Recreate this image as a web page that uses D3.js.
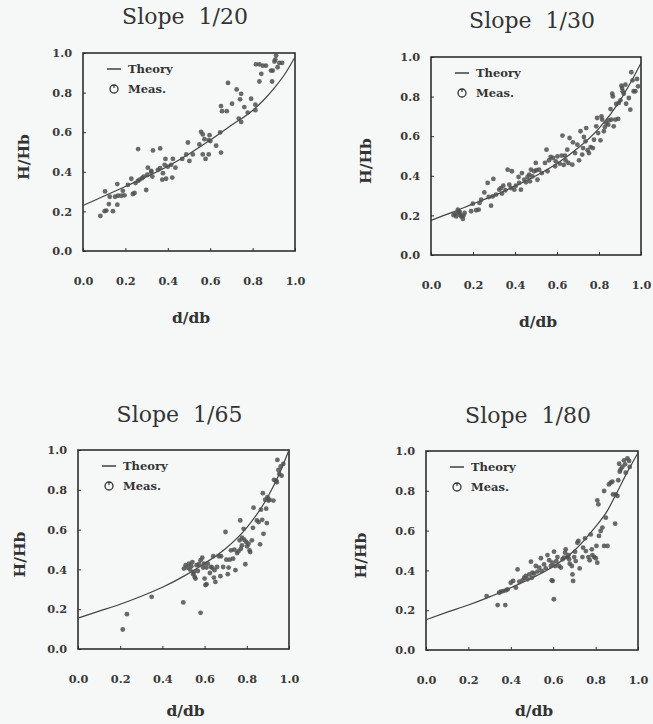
<!DOCTYPE html>
<html>
<head>
<meta charset="utf-8">
<script src="https://cdn.jsdelivr.net/npm/d3@7"></script>
<style>
  body { margin: 0; background: #f5f8f7; }
  svg { display: block; }
  .tick text { font-family: "DejaVu Serif", serif; font-weight: bold; font-size: 11.3px; fill: #3a3a3a; }
  .tick line { stroke: #333; stroke-width: 1; }
</style>
</head>
<body>
<div id="chart"></div>
<script>
// slopes shown in the four panels
const titles = ['Slope  1/20', 'Slope  1/30', 'Slope  1/65', 'Slope  1/80'];
const ticks = [0, 0.2, 0.4, 0.6, 0.8, 1.0];

// theory curves as [d/db, H/Hb]
const theory20 = [[0,0.23],[0.1,0.278],[0.2,0.326],[0.3,0.375],[0.4,0.428],[0.5,0.49],[0.6,0.56],[0.7,0.635],[0.8,0.71],[0.85,0.76],[0.9,0.82],[0.95,0.89],[1,0.98]];
const theory30 = [[0,0.175],[0.1,0.215],[0.2,0.258],[0.3,0.3],[0.4,0.348],[0.5,0.4],[0.6,0.462],[0.7,0.54],[0.8,0.64],[0.9,0.78],[0.95,0.87],[1,0.97]];
const theory65 = [[0,0.155],[0.1,0.19],[0.2,0.225],[0.3,0.265],[0.4,0.31],[0.5,0.365],[0.6,0.43],[0.7,0.505],[0.8,0.61],[0.9,0.765],[0.95,0.87],[1,1.0]];
const theory80 = [[0,0.152],[0.1,0.19],[0.2,0.226],[0.3,0.267],[0.4,0.313],[0.5,0.362],[0.6,0.42],[0.7,0.5],[0.8,0.62],[0.85,0.69],[0.9,0.79],[0.95,0.895],[1,0.99]];

// measurements
const meas20 = [[0.26,0.515],[0.33,0.508],[0.364,0.518],[0.306,0.421],[0.322,0.405],[0.353,0.41],[0.364,0.418],[0.389,0.465],[0.385,0.435],[0.40,0.426],[0.416,0.435],[0.424,0.465],[0.436,0.421],[0.377,0.393],[0.374,0.36],[0.392,0.365],[0.421,0.371],[0.468,0.465],[0.495,0.548],[0.487,0.488],[0.502,0.455],[0.518,0.488],[0.549,0.538],[0.557,0.602],[0.565,0.589],[0.573,0.565],[0.578,0.465],[0.565,0.488],[0.593,0.56],[0.597,0.585],[0.601,0.555],[0.593,0.488],[0.628,0.532],[0.647,0.599],[0.651,0.497],[0.651,0.732],[0.656,0.706],[0.678,0.706],[0.684,0.849],[0.703,0.744],[0.725,0.816],[0.735,0.669],[0.741,0.766],[0.746,0.794],[0.746,0.652],[0.761,0.727],[0.777,0.699],[0.793,0.769],[0.813,0.739],[0.813,0.711],[0.816,0.943],[0.832,0.943],[0.841,0.895],[0.848,0.936],[0.863,0.936],[0.832,0.856],[0.887,0.911],[0.895,0.911],[0.903,0.957],[0.911,0.987],[0.918,0.928],[0.926,0.95],[0.939,0.95],[0.892,0.856],[0.907,0.967],[0.082,0.177],[0.102,0.201],[0.11,0.204],[0.122,0.237],[0.141,0.201],[0.162,0.234],[0.104,0.301],[0.126,0.274],[0.151,0.274],[0.165,0.279],[0.181,0.279],[0.162,0.338],[0.196,0.281],[0.212,0.334],[0.228,0.365],[0.235,0.288],[0.243,0.293],[0.248,0.343],[0.259,0.354],[0.267,0.36],[0.279,0.368],[0.286,0.376],[0.298,0.308],[0.303,0.385],[0.327,0.376],[0.322,0.398],[0.188,0.304]];
const meas30 = [[0.107,0.202],[0.117,0.209],[0.128,0.229],[0.133,0.215],[0.139,0.202],[0.144,0.195],[0.152,0.182],[0.155,0.199],[0.16,0.212],[0.12,0.195],[0.136,0.219],[0.191,0.221],[0.199,0.259],[0.215,0.226],[0.227,0.229],[0.231,0.263],[0.239,0.279],[0.254,0.316],[0.27,0.364],[0.275,0.293],[0.286,0.249],[0.294,0.296],[0.297,0.384],[0.31,0.305],[0.325,0.33],[0.333,0.338],[0.338,0.31],[0.344,0.35],[0.354,0.327],[0.365,0.431],[0.373,0.355],[0.381,0.338],[0.385,0.423],[0.397,0.33],[0.404,0.35],[0.417,0.394],[0.42,0.364],[0.428,0.33],[0.433,0.414],[0.444,0.38],[0.452,0.367],[0.46,0.394],[0.468,0.406],[0.471,0.372],[0.476,0.431],[0.483,0.397],[0.491,0.423],[0.499,0.465],[0.502,0.428],[0.507,0.38],[0.515,0.431],[0.528,0.414],[0.543,0.465],[0.55,0.532],[0.555,0.423],[0.562,0.478],[0.57,0.495],[0.581,0.49],[0.591,0.448],[0.594,0.473],[0.602,0.498],[0.613,0.461],[0.622,0.502],[0.626,0.603],[0.632,0.455],[0.638,0.502],[0.641,0.478],[0.649,0.532],[0.654,0.465],[0.66,0.591],[0.673,0.456],[0.676,0.569],[0.686,0.515],[0.697,0.557],[0.705,0.478],[0.712,0.625],[0.72,0.507],[0.724,0.54],[0.728,0.596],[0.736,0.574],[0.739,0.641],[0.746,0.529],[0.752,0.515],[0.76,0.545],[0.771,0.54],[0.776,0.582],[0.787,0.65],[0.791,0.692],[0.796,0.616],[0.807,0.579],[0.812,0.7],[0.815,0.684],[0.823,0.625],[0.828,0.646],[0.834,0.667],[0.844,0.658],[0.847,0.68],[0.855,0.737],[0.859,0.684],[0.863,0.815],[0.866,0.801],[0.87,0.65],[0.878,0.684],[0.882,0.763],[0.891,0.687],[0.894,0.768],[0.902,0.781],[0.907,0.855],[0.91,0.843],[0.913,0.827],[0.918,0.815],[0.926,0.86],[0.942,0.793],[0.949,0.734],[0.954,0.923],[0.96,0.882],[0.965,0.827],[0.973,0.827],[0.981,0.889],[0.986,0.852],[0.929,0.764]];
const meas65 = [[0.212,0.098],[0.232,0.175],[0.349,0.262],[0.499,0.234],[0.581,0.182],[0.502,0.404],[0.51,0.421],[0.518,0.409],[0.526,0.429],[0.531,0.399],[0.537,0.416],[0.542,0.437],[0.546,0.376],[0.553,0.362],[0.557,0.354],[0.549,0.387],[0.562,0.421],[0.568,0.392],[0.573,0.426],[0.581,0.446],[0.589,0.459],[0.593,0.409],[0.597,0.429],[0.6,0.354],[0.604,0.321],[0.609,0.326],[0.609,0.409],[0.615,0.429],[0.625,0.382],[0.631,0.412],[0.636,0.409],[0.641,0.466],[0.644,0.359],[0.647,0.396],[0.651,0.337],[0.659,0.412],[0.667,0.466],[0.675,0.366],[0.678,0.466],[0.688,0.412],[0.699,0.588],[0.703,0.449],[0.71,0.376],[0.714,0.409],[0.719,0.449],[0.725,0.496],[0.735,0.454],[0.741,0.499],[0.746,0.396],[0.754,0.482],[0.761,0.492],[0.769,0.646],[0.772,0.504],[0.777,0.521],[0.785,0.604],[0.788,0.549],[0.793,0.426],[0.797,0.538],[0.801,0.516],[0.808,0.529],[0.813,0.496],[0.816,0.487],[0.824,0.546],[0.829,0.609],[0.832,0.71],[0.856,0.638],[0.863,0.526],[0.867,0.7],[0.873,0.649],[0.876,0.783],[0.879,0.579],[0.887,0.75],[0.892,0.705],[0.895,0.633],[0.898,0.763],[0.903,0.746],[0.907,0.75],[0.926,0.746],[0.929,0.85],[0.939,0.846],[0.945,0.95],[0.95,0.9],[0.954,0.88],[0.961,0.917],[0.965,0.871],[0.973,0.93],[0.942,0.838],[0.848,0.646],[0.777,0.559],[0.766,0.546]];
const meas80 = [[0.286,0.271],[0.338,0.226],[0.345,0.288],[0.353,0.293],[0.364,0.296],[0.374,0.226],[0.377,0.3],[0.385,0.305],[0.4,0.338],[0.411,0.347],[0.424,0.313],[0.432,0.405],[0.44,0.343],[0.455,0.35],[0.463,0.363],[0.471,0.372],[0.479,0.355],[0.487,0.38],[0.495,0.444],[0.499,0.363],[0.502,0.389],[0.51,0.384],[0.518,0.422],[0.526,0.394],[0.534,0.414],[0.542,0.461],[0.546,0.397],[0.557,0.43],[0.565,0.41],[0.573,0.477],[0.581,0.451],[0.589,0.422],[0.593,0.35],[0.597,0.439],[0.604,0.494],[0.609,0.422],[0.615,0.447],[0.62,0.467],[0.628,0.422],[0.636,0.414],[0.644,0.456],[0.651,0.464],[0.656,0.489],[0.659,0.506],[0.667,0.467],[0.672,0.477],[0.675,0.456],[0.678,0.434],[0.688,0.422],[0.691,0.38],[0.694,0.347],[0.699,0.467],[0.703,0.494],[0.706,0.447],[0.714,0.539],[0.719,0.548],[0.725,0.41],[0.738,0.467],[0.741,0.514],[0.75,0.561],[0.754,0.497],[0.766,0.467],[0.772,0.451],[0.777,0.581],[0.782,0.506],[0.785,0.477],[0.793,0.467],[0.801,0.461],[0.804,0.523],[0.808,0.439],[0.813,0.732],[0.808,0.752],[0.816,0.573],[0.824,0.598],[0.832,0.615],[0.84,0.523],[0.84,0.799],[0.848,0.665],[0.856,0.523],[0.863,0.832],[0.871,0.841],[0.879,0.846],[0.882,0.782],[0.892,0.635],[0.895,0.782],[0.903,0.774],[0.907,0.853],[0.911,0.936],[0.914,0.896],[0.918,0.908],[0.926,0.92],[0.934,0.953],[0.939,0.933],[0.942,0.891],[0.95,0.963],[0.958,0.95],[0.961,0.92],[0.603,0.255],[0.597,0.347]];

const theories = [theory20, theory30, theory65, theory80];
const measures = [meas20, meas30, meas65, meas80];

// where each panel sits on the page
const layout = [
  {l: 83, r: 295, t: 53, b: 251, titleY: 24, ylabX: 23, xlabY: 323},
  {l: 431, r: 641, t: 57, b: 255, titleY: 28, ylabX: 365, xlabY: 327},
  {l: 78, r: 289, t: 450, b: 649, titleY: 422, ylabX: 19, xlabY: 716},
  {l: 426, r: 638, t: 451, b: 650, titleY: 423, ylabX: 360, xlabY: 716}
];

const svg = d3.select('#chart').append('svg')
  .attr('width', 653)
  .attr('height', 724);

const fmt = d3.format('.1f');

layout.forEach(function (p, i) {
  const x = d3.scaleLinear().domain([0, 1]).range([p.l, p.r]);
  const y = d3.scaleLinear().domain([0, 1]).range([p.b, p.t]);
  const g = svg.append('g');

  // title
  g.append('text')
    .attr('x', (p.l + p.r) / 2 - 4)
    .attr('y', p.titleY)
    .attr('text-anchor', 'middle')
    .style('font-family', '"DejaVu Serif", serif')
    .style('font-size', '22px')
    .style('fill', '#333')
    .style('white-space', 'pre')
    .text(titles[i]);

  // axes, ticks point inwards
  g.append('g')
    .attr('transform', 'translate(0,' + p.b + ')')
    .call(d3.axisBottom(x).tickValues(ticks).tickFormat(fmt).tickSizeInner(-3).tickSizeOuter(0).tickPadding(26))
    .call(a => a.select('.domain').remove());

  g.append('g')
    .attr('transform', 'translate(' + p.l + ',0)')
    .call(d3.axisLeft(y).tickValues(ticks).tickFormat(fmt).tickSizeInner(-3).tickSizeOuter(0).tickPadding(11))
    .call(a => a.select('.domain').remove());

  // frame
  g.append('rect')
    .attr('x', p.l).attr('y', p.t)
    .attr('width', p.r - p.l).attr('height', p.b - p.t)
    .attr('fill', 'none')
    .attr('stroke', '#2e2e2e')
    .attr('stroke-width', 1.6);

  // axis labels
  g.append('text')
    .attr('x', (p.l + p.r) / 2 + 2)
    .attr('y', p.xlabY)
    .attr('text-anchor', 'middle')
    .style('font-family', '"DejaVu Serif", serif')
    .style('font-weight', 'bold')
    .style('font-size', '15.5px')
    .style('fill', '#333')
    .text('d/db');

  g.append('text')
    .attr('transform', 'translate(' + (p.ylabX + 5.5) + ',' + ((p.t + p.b) / 2 + 5) + ') rotate(-90)')
    .attr('text-anchor', 'middle')
    .style('font-family', '"DejaVu Serif", serif')
    .style('font-weight', 'bold')
    .style('font-size', '15.5px')
    .style('fill', '#333')
    .text('H/Hb');

  // theory line
  const line = d3.line()
    .x(d => x(d[0]))
    .y(d => y(d[1]))
    .curve(d3.curveMonotoneX);

  g.append('path')
    .datum(theories[i])
    .attr('d', line)
    .attr('fill', 'none')
    .attr('stroke', '#444')
    .attr('stroke-width', 1.2);

  // measured points
  g.selectAll('circle.pt')
    .data(measures[i])
    .enter()
    .append('circle')
    .attr('class', 'pt')
    .attr('cx', d => x(d[0]))
    .attr('cy', d => y(d[1]))
    .attr('r', 2.4)
    .attr('fill', '#505050')
    .attr('fill-opacity', 0.85);

  // legend
  const lg = g.append('g').attr('transform', 'translate(' + p.l + ',' + p.t + ')');
  lg.append('line')
    .attr('x1', 24).attr('x2', 38)
    .attr('y1', 16).attr('y2', 16)
    .attr('stroke', '#333').attr('stroke-width', 1.4);
  lg.append('circle')
    .attr('cx', 31).attr('cy', 36).attr('r', 4)
    .attr('fill', 'none').attr('stroke', '#333').attr('stroke-width', 1.3);
  lg.append('line')
    .attr('x1', 31).attr('x2', 31)
    .attr('y1', 32).attr('y2', 35)
    .attr('stroke', '#333').attr('stroke-width', 1.2);
  lg.selectAll('text.leg')
    .data(['Theory', 'Meas.'])
    .enter()
    .append('text')
    .attr('class', 'leg')
    .attr('x', 45)
    .attr('y', (d, k) => 16 + k * 20)
    .attr('dy', '0.35em')
    .style('font-family', '"DejaVu Serif", serif')
    .style('font-weight', 'bold')
    .style('font-size', '11.5px')
    .style('fill', '#333')
    .text(d => d);
});
</script>
</body>
</html>
